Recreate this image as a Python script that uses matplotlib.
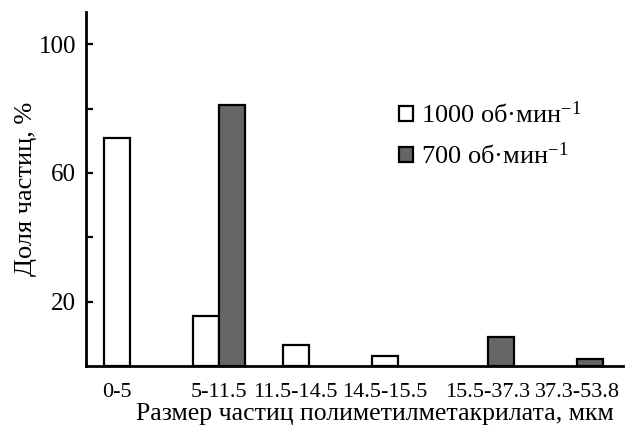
import numpy as np
import matplotlib
matplotlib.use('Agg')
import matplotlib.pyplot as plt

plt.rcParams['font.family'] = ['Liberation Serif', 'DejaVu Serif']
plt.rcParams['mathtext.fontset'] = 'custom'
plt.rcParams['mathtext.rm'] = 'Liberation Serif'
plt.rcParams['mathtext.it'] = 'Liberation Serif:italic'

categories = ['0-5', '5-11.5', '11.5-14.5', '14.5-15.5', '15.5-37.3', '37.3-53.8']
rpm_1000 = [71, 15.5, 6.5, 3.2, 0, 0]
rpm_700 = [0, 81, 0, 0, 8.9, 2.2]
series_labels = ['1000 об·мин$^{-1}$', '700 об·мин$^{-1}$']

fig = plt.figure(figsize=(6.4, 4.34), dpi=100)
ax = fig.add_axes([0.134, 0.157, 0.839, 0.815])

x = np.arange(len(categories))
w = 0.29
v1 = np.array(rpm_1000)
v2 = np.array(rpm_700)

m1 = v1 > 0
m2 = v2 > 0
ax.bar(x[m1] - w / 2, v1[m1], w, color='white', edgecolor='black', lw=1.6,
       label=series_labels[0])
ax.bar(x[m2] + w / 2, v2[m2], w, color='#666666', edgecolor='black', lw=1.6,
       label=series_labels[1])

# labels sit under the white bar when it is alone, else at the group centre
tick_pos = np.where(m1 & ~m2, x - w / 2, x)
ax.set_xticks(tick_pos)
ax.set_xticklabels(categories, fontsize=16)
ax.tick_params(axis='x', length=0, pad=12)

ax.set_xlim(-0.49, 5.51)
ax.set_ylim(0, 110)
ax.set_yticks([20, 60, 100])
ax.set_yticks([40, 80], minor=True)
ax.tick_params(axis='y', which='both', direction='in', length=5, width=1.6,
               labelsize=18, pad=7)

for s in ['top', 'right']:
    ax.spines[s].set_visible(False)
for s in ['left', 'bottom']:
    ax.spines[s].set_linewidth(2)

ax.set_xlabel('Размер частиц полиметилметакрилата, мкм', fontsize=18.5, labelpad=1)
ax.xaxis.label.set_x(0.538)
ax.set_ylabel('Доля частиц, %', fontsize=19, labelpad=1)

ax.legend(loc='upper left', bbox_to_anchor=(0.54, 0.815), frameon=False,
          fontsize=19, handlelength=0.5, handleheight=0.5, handletextpad=0.3,
          labelspacing=0.55)

fig.savefig('out.png', dpi=100)
